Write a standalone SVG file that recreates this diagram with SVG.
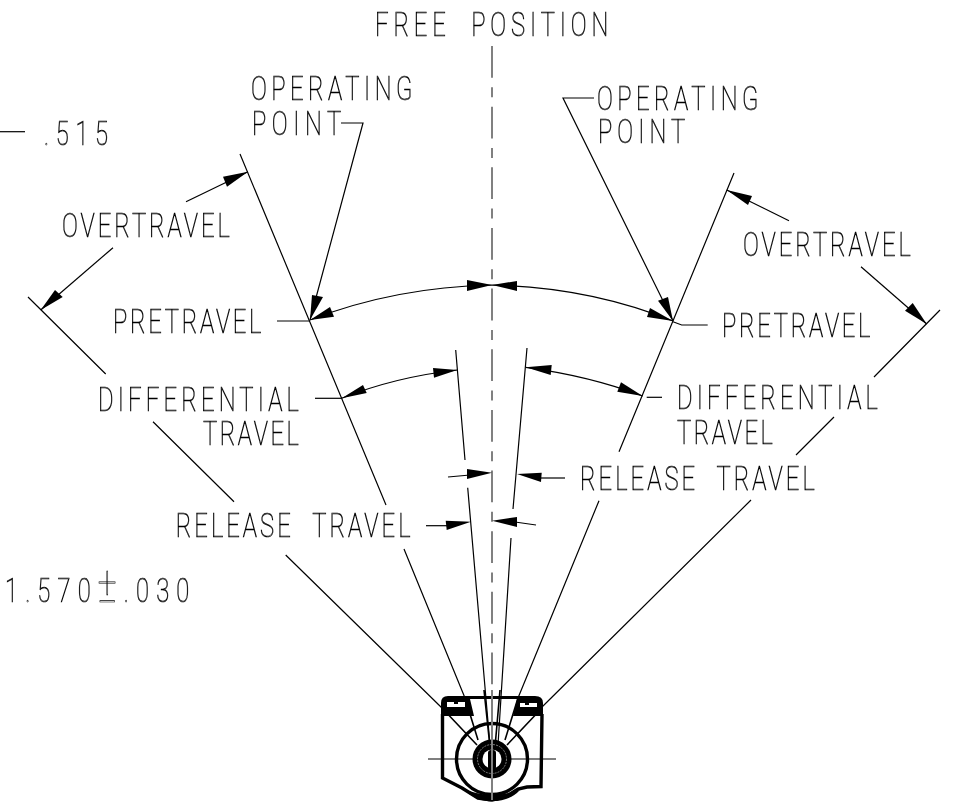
<svg xmlns="http://www.w3.org/2000/svg" width="961" height="807" viewBox="0 0 961 807">
<defs><filter id="gray" x="-5%" y="-30%" width="110%" height="160%" color-interpolation-filters="sRGB"><feOffset dx="0" dy="0"/></filter></defs>
<style>
.l{fill:none;stroke:#000;stroke-width:1.2}
.h{fill:none;stroke:#000;stroke-width:1.6}
.c{fill:none;stroke:#808080;stroke-width:2;stroke-dasharray:31.8 9.5 10 9.35}
.a{fill:#000;stroke:none}
.t{font-family:Roboto,"Liberation Sans",sans-serif;font-weight:100;font-size:33px;fill:none;stroke:#000;stroke-width:.75;word-spacing:14px;filter:url(#gray)}
.k{fill:none;stroke:#000;stroke-width:3.4}
.b{fill:#000;stroke:none}
.w{fill:#fff;stroke:none}
</style>
<rect width="961" height="807" fill="#fff"/>
<g id="connectors">
<path class="c" d="M492 46V800"/>
<path class="l" d="M240 154L386 505M404 549L465 698"/>
<path class="l" d="M28 297L105.700 374M153 421.700L234 501.700M285.700 555L442 708"/>
<path class="l" d="M455.700 350L465 460M467.700 487.700L490 745"/>
<path class="l" d="M527 348L513 509M511 538L498 745"/>
<path class="l" d="M734 173L619 451.700M599 500.700L518 698"/>
<path class="l" d="M940 310L874 377M834 417L796 455M751 500L541 708"/>
<path class="l" d="M341 123H363L310 320"/>
<path class="l" d="M594 98H563L673 321"/>
<path class="l" d="M186 201.700L248 171.700"/>
<path class="l" d="M113 247.700L40.700 310"/>
<path class="l" d="M789 220.700L726.700 190"/>
<path class="l" d="M861 266.700L926.700 324"/>
<path class="l" d="M277 321H310"/>
<path class="l" d="M673 321.700L681.700 325H707.700"/>
<path class="l" d="M310 320Q395 287 492 285Q589 287 673 321"/>
<path class="l" d="M315 398.300H341.700"/>
<path class="l" d="M646.700 397.300H662"/>
<path class="l" d="M341.700 398.300Q395 377 457.300 370"/>
<path class="l" d="M525.700 367.300Q590 376 642.700 396"/>
<path class="l" d="M448 477L470 475"/>
<path class="l" d="M426 525.700H447"/>
<path class="l" d="M565 478H540"/>
<path class="l" d="M536 525L515 522"/>
<path class="l" d="M0 131.700H25"/>
<path class="l" d="M428 759H556"/>
<polygon class="a" points="248,171.700 223,176.700 227,186.700"/>
<polygon class="a" points="40.700,310 55,290 62.700,297"/>
<polygon class="a" points="726.700,190 752,196 748,205"/>
<polygon class="a" points="926.700,324 912.700,303 905,310.700"/>
<polygon class="a" points="310,320 312,295 323,297"/>
<polygon class="a" points="310,320 330,307 334,316.700"/>
<polygon class="a" points="673,321 658,300.700 668,297"/>
<polygon class="a" points="673,321 650,308 647,317"/>
<polygon class="a" points="492,285 467,280 467,291"/>
<polygon class="a" points="492,285 517,281 517,291"/>
<polygon class="a" points="341.700,398.300 363,385 366.700,393"/>
<polygon class="a" points="457.300,370 433,368 434,377.700"/>
<polygon class="a" points="525.700,367.300 551.700,365 550.700,375"/>
<polygon class="a" points="642.700,396 621,382.300 617.300,391.700"/>
<polygon class="a" points="492,472.700 467,469 467,479"/>
<polygon class="a" points="517,474 541.700,472.700 541,482"/>
<polygon class="a" points="471,521.700 445.700,520.700 446.700,530"/>
<polygon class="a" points="492,520.700 517,517 517,527"/>
</g>
<g id="label-free-position"><text class="t" transform="matrix(.72 0 0 1 375 36)" textLength="324" lengthAdjust="spacing">FREE POSITION</text></g>
<g id="label-515"><text class="t" transform="matrix(.72 0 0 1 44 145)" textLength="89" lengthAdjust="spacing">.515</text></g>
<g id="label-1570"><text class="t" transform="matrix(.72 0 0 1 5 602)" textLength="256" lengthAdjust="spacing">1.570<tspan style="font-size:50px">±</tspan>.030</text></g>
<g id="label-operating-left"><text class="t" transform="matrix(.72 0 0 1 251 100)" textLength="224" lengthAdjust="spacing">OPERATING</text><text class="t" transform="matrix(.72 0 0 1 252 135)" textLength="124" lengthAdjust="spacing">POINT</text></g>
<g id="label-operating-right"><text class="t" transform="matrix(.72 0 0 1 597 110)" textLength="224" lengthAdjust="spacing">OPERATING</text><text class="t" transform="matrix(.72 0 0 1 598 143)" textLength="121" lengthAdjust="spacing">POINT</text></g>
<g id="label-overtravel-left"><text class="t" transform="matrix(.72 0 0 1 62 236.700)" textLength="233" lengthAdjust="spacing">OVERTRAVEL</text></g>
<g id="label-overtravel-right"><text class="t" transform="matrix(.72 0 0 1 743 256)" textLength="233" lengthAdjust="spacing">OVERTRAVEL</text></g>
<g id="label-pretravel-left"><text class="t" transform="matrix(.72 0 0 1 113 333)" textLength="206" lengthAdjust="spacing">PRETRAVEL</text></g>
<g id="label-pretravel-right"><text class="t" transform="matrix(.72 0 0 1 722 336.700)" textLength="206" lengthAdjust="spacing">PRETRAVEL</text></g>
<g id="label-differential-left"><text class="t" transform="matrix(.72 0 0 1 98 410.700)" textLength="279" lengthAdjust="spacing">DIFFERENTIAL</text><text class="t" transform="matrix(.72 0 0 1 203 445)" textLength="133" lengthAdjust="spacing">TRAVEL</text></g>
<g id="label-differential-right"><text class="t" transform="matrix(.72 0 0 1 677 409.300)" textLength="279" lengthAdjust="spacing">DIFFERENTIAL</text><text class="t" transform="matrix(.72 0 0 1 677 444)" textLength="133" lengthAdjust="spacing">TRAVEL</text></g>
<g id="label-release-left"><text class="t" transform="matrix(.72 0 0 1 175.700 537.300)" textLength="326" lengthAdjust="spacing">RELEASE TRAVEL</text></g>
<g id="label-release-right"><text class="t" transform="matrix(.72 0 0 1 580 490)" textLength="326" lengthAdjust="spacing">RELEASE TRAVEL</text></g>
<g id="switch-body">
<path class="k" d="M442.500 714V778L462 788L478 798L492 800L505 797L518 789L527 787L541 786.500L542 714"/>
<path class="b" d="M441 716V703Q441 696 448 696H535Q543 696 543 703V716H513L517 699H470L474 716Z"/>
<path class="w" d="M447 702H465V707H447ZM520 703H537V707H520Z"/>
<path class="b" d="M454 702H458V704H454ZM525 703H529V705H525Z"/>
<path class="h" d="M442 708L477 745M465 698L478 740M484 690L490 747M500 690L495 747M518 698L505 740M542 708L507 745"/>
<circle class="k" cx="492" cy="759" r="35.500"/>
<path class="b" d="M462 788Q478 803 492 801Q510 801 520 790Q505 795 492 795Q477 795 462 788Z"/>
<circle cx="492" cy="759" r="19.500" class="b"/>
<circle cx="492" cy="759" r="9.500" class="w"/>
<circle cx="492" cy="759" r="14.500" fill="none" stroke="#ccc" stroke-width=".6" stroke-dasharray="2 1"/>
<rect class="b" x="488" y="750" width="8" height="20" rx="3"/>
<path d="M492 690V800" fill="none" stroke="#808080" stroke-width="2"/>
</g>
</svg>
